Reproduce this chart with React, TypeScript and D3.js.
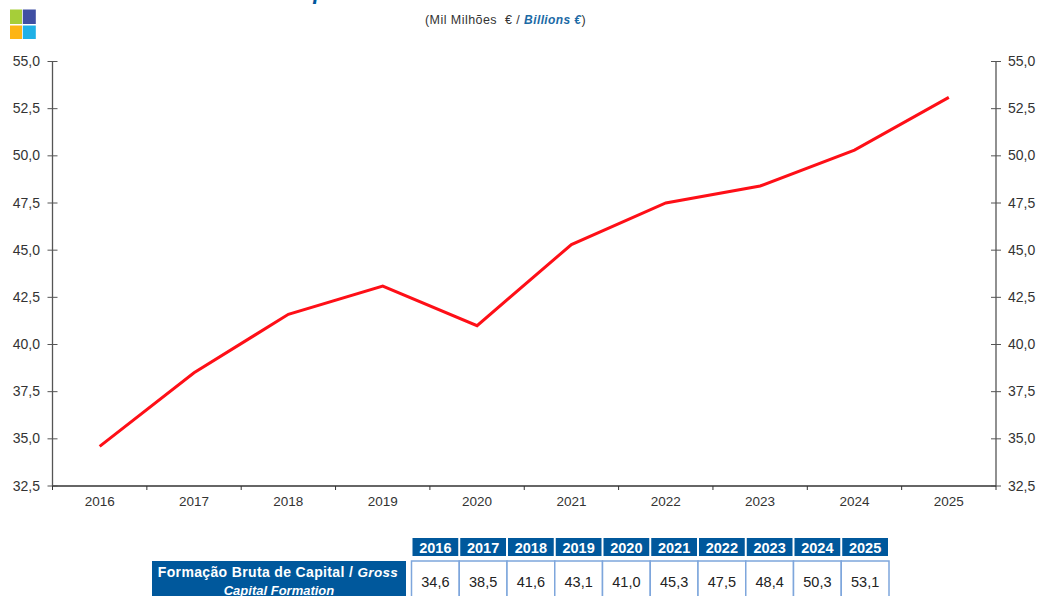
import React from "react";
import * as d3 from "d3";

const years = ["2016","2017","2018","2019","2020","2021","2022","2023","2024","2025"];
const values = [34.6,38.5,41.6,43.1,41.0,45.3,47.5,48.4,50.3,53.1];
const yTicks = [32.5,35,37.5,40,42.5,45,47.5,50,52.5,55];
const logoColors = ["#a6ce39","#3f4fa3","#fdb515","#1fb0e6"];

const W = 1039, H = 596;
const left = 52.5, right = 996, top = 61.5, bottom = 486;
const x = d3.scaleBand<string>().domain(years).range([left, right]);
const y = d3.scaleLinear().domain([32.5, 55]).range([bottom, top]);
const fmt = (v: number) => v.toFixed(1).replace(".", ",");
const line = d3.line<number>().x((_, i) => x(years[i])! + x.bandwidth() / 2).y(d => y(d));
const tx = d3.scaleBand<string>().domain(years).range([411.5, 889]);
const axisColor = "#555555";
const textColor = "#333333";
const blue = "#00589c";
const font = "'Liberation Sans', Arial, sans-serif";

export default function App() {
  return (
    <svg width={W} height={H} viewBox={`0 0 ${W} ${H}`} style={{ position: "absolute", left: 0, top: 0, background: "#fff" }} fontFamily={font}>
      {logoColors.map((c, i) => (
        <rect key={c} x={i % 2 ? 22.8 : 10} y={i < 2 ? 9.5 : 25.5} width={i % 2 ? 13 : 12} height={i < 2 ? 14.5 : 13.5} fill={c} />
      ))}
      <text x={320} y={-1.5} fontSize={22} fontWeight="bold" fontStyle="italic" fill={blue} textAnchor="middle">p</text>
      <text x={425} y={24} fontSize={12.5} letterSpacing={0.45} fill={textColor} style={{ whiteSpace: "pre" }}>
        {"(Mil Milhões  € / "}<tspan fontWeight="bold" fontStyle="italic" fontSize={12} letterSpacing={0.4} fill="#1b6aa5">{"Billions €"}</tspan>)
      </text>

      <line x1={left} x2={left} y1={top} y2={bottom} stroke={axisColor} strokeWidth={1.3} />
      <line x1={right} x2={right} y1={top} y2={bottom} stroke={axisColor} strokeWidth={1.3} />
      <line x1={left} x2={right} y1={bottom} y2={bottom} stroke="#333" strokeWidth={1.5} />
      {yTicks.map(t => (
        <g key={t}>
          <line x1={left - 5} x2={left + 5} y1={y(t)} y2={y(t)} stroke={axisColor} />
          <line x1={right - 5} x2={right + 5} y1={y(t)} y2={y(t)} stroke={axisColor} />
          <text x={40} y={y(t) + 4.5} fontSize={14} fill={textColor} textAnchor="end">{fmt(t)}</text>
          <text x={1008} y={y(t) + 4.5} fontSize={14} fill={textColor}>{fmt(t)}</text>
        </g>
      ))}
      {[...years, "end"].map((yr, i) => {
        const px = left + i * x.bandwidth();
        return <line key={yr} x1={px} x2={px} y1={bottom} y2={bottom + 4} stroke="#333" />;
      })}
      {years.map(yr => (
        <text key={yr} x={x(yr)! + x.bandwidth() / 2} y={506} fontSize={13.5} fill={textColor} textAnchor="middle">{yr}</text>
      ))}
      <path d={line(values)!} fill="none" stroke="#fe0f17" strokeWidth={3} />

      {years.map((yr, i) => (
        <g key={yr}>
          <rect x={tx(yr)! + 1} y={538} width={tx.bandwidth() - 2} height={18} fill={blue} />
          <text x={tx(yr)! + tx.bandwidth() / 2} y={553} fontSize={14.5} fontWeight="bold" fill="#fff" textAnchor="middle">{yr}</text>
          <rect x={tx(yr)!} y={561} width={tx.bandwidth()} height={50} fill="#fff" stroke="#7ea6dc" strokeWidth={1.5} />
          <text x={tx(yr)! + tx.bandwidth() / 2} y={587} fontSize={14.5} fill="#222" textAnchor="middle">{fmt(values[i])}</text>
        </g>
      ))}
      <rect x={152} y={561} width={254} height={35} fill={blue} />
      <text x={278} y={577} fontSize={14} letterSpacing={0.35} fontWeight="bold" fill="#fff" textAnchor="middle">
        Formação Bruta de Capital / <tspan fontStyle="italic" fontSize={13.5}>Gross</tspan>
      </text>
      <text x={279} y={595} fontSize={13} fontWeight="bold" fontStyle="italic" fill="#fff" textAnchor="middle">Capital Formation</text>
    </svg>
  );
}
